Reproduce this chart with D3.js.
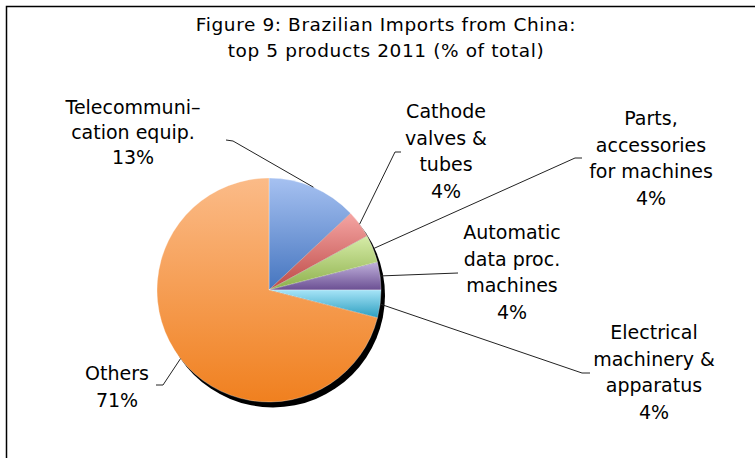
<!DOCTYPE html>
<html>
<head>
<meta charset="utf-8">
<script src="https://cdn.jsdelivr.net/npm/d3@7"></script>
<style>
  html, body { margin: 0; padding: 0; background: #fff; }
  svg { display: block; }
  text { font-family: "DejaVu Sans", sans-serif; fill: #000; }
</style>
</head>
<body>
<svg id="chart" width="755" height="458"></svg>
<script>
// Brazilian imports from China, top 5 products 2011 (% of total)
const categories = [
  "Telecommunication equip.",
  "Cathode valves & tubes",
  "Parts, accessories for machines",
  "Automatic data proc. machines",
  "Electrical machinery & apparatus",
  "Others"
];
const shares = [13, 4, 4, 4, 4, 71];
const labelLines = [
  ["Telecommuni\u2013", "cation equip."],
  ["Cathode", "valves &", "tubes"],
  ["Parts,", "accessories", "for machines"],
  ["Automatic", "data proc.", "machines"],
  ["Electrical", "machinery &", "apparatus"],
  ["Others"]
];
const titleLines = [
  "Figure 9: Brazilian Imports from China:",
  "top 5 products 2011 (% of total)"
];

// slice gradients: [top, bottom]
const sliceColors = [
  ["#a6c1f1", "#4575bf"],
  ["#f5a5a3", "#bd4a47"],
  ["#d6eca8", "#8db04b"],
  ["#c0b1db", "#6b4f93"],
  ["#a6e4f7", "#2c9ec0"],
  ["#fbbb88", "#f0801f"]
];

// label layout: text centre x, first baseline y, line step, leader points (elbow, end)
const labelLayout = [
  { x: 133, y: 113.5, step: 25, leader: [[233, 141], [226, 140]] },
  { x: 446, y: 118, step: 26.7, leader: [[395, 152], [401, 152]] },
  { x: 651, y: 125, step: 26.7, leader: [[575, 158], [582, 158]] },
  { x: 512, y: 239, step: 26.7, leader: [[458, 273]] },
  { x: 654, y: 339, step: 26.7, leader: [[582, 373], [590, 373]] },
  { x: 117, y: 380, step: 27, leader: [[163, 385], [156, 385]] }
];

const svg = d3.select("#chart");
const cx = 269, cy = 290, r = 112;

// outer frame
svg.append("rect")
  .attr("x", 6.5).attr("y", 6.5)
  .attr("width", 800).attr("height", 500)
  .attr("fill", "none").attr("stroke", "#000").attr("stroke-width", 1.5);

// title
svg.append("g").selectAll("text")
  .data(titleLines).join("text")
  .attr("x", 386).attr("y", (d, i) => 31 + i * 26)
  .attr("text-anchor", "middle")
  .attr("font-size", 18.5)
  .attr("letter-spacing", 0.6)
  .text(d => d);

const defs = svg.append("defs");
sliceColors.forEach((c, i) => {
  const g = defs.append("linearGradient")
    .attr("id", "grad" + i)
    .attr("x1", 0).attr("y1", 0).attr("x2", 0).attr("y2", 1);
  g.append("stop").attr("offset", "0%").attr("stop-color", c[0]);
  g.append("stop").attr("offset", "100%").attr("stop-color", c[1]);
});
const blur = defs.append("filter").attr("id", "shadowBlur")
  .attr("x", "-10%").attr("y", "-10%").attr("width", "120%").attr("height", "120%");
blur.append("feGaussianBlur").attr("stdDeviation", 0.6);

const pie = d3.pie().sort(null).value(d => d)
  .startAngle(0).endAngle(2 * Math.PI);
const arcs = pie(shares);
const arc = d3.arc().innerRadius(0).outerRadius(r);

const plot = svg.append("g").attr("transform", `translate(${cx},${cy})`);

// drop shadow
plot.append("circle")
  .attr("cx", 4).attr("cy", 5.5).attr("r", r)
  .attr("fill", "#000")
  .attr("filter", "url(#shadowBlur)");

plot.selectAll("path.slice")
  .data(arcs).join("path")
  .attr("class", "slice")
  .attr("d", arc)
  .attr("fill", (d, i) => `url(#grad${i})`)
  .attr("stroke", "rgba(255,255,255,0.45)")
  .attr("stroke-width", 0.7);

// leader lines from each slice's mid-angle on the rim
const line = d3.line();
svg.append("g").selectAll("path")
  .data(arcs).join("path")
  .attr("d", (d, i) => {
    const a = (d.startAngle + d.endAngle) / 2;
    const p0 = [cx + r * Math.sin(a), cy - r * Math.cos(a)];
    return line([p0, ...labelLayout[i].leader]);
  })
  .attr("fill", "none")
  .attr("stroke", "#222")
  .attr("stroke-width", 1);

// data labels
const labels = svg.append("g").selectAll("text")
  .data(arcs).join("text")
  .attr("text-anchor", "middle")
  .attr("font-size", 19);
labels.each(function (d, i) {
  const t = d3.select(this);
  const lay = labelLayout[i];
  const lines = labelLines[i].concat([d3.format(".0f")(d.data) + "%"]);
  lines.forEach((s, k) => {
    t.append("tspan")
      .attr("x", lay.x)
      .attr("y", lay.y + k * lay.step)
      .text(s);
  });
});
</script>
</body>
</html>
